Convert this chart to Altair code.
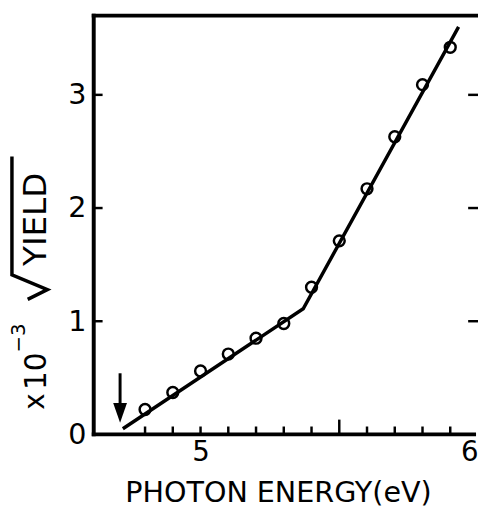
import altair as alt
import pandas as pd

# ---- data ----
energy = [4.8, 4.9, 5.0, 5.1, 5.2, 5.3, 5.4, 5.5, 5.6, 5.7, 5.8, 5.9]
sqrt_yield = [0.22, 0.37, 0.56, 0.71, 0.85, 0.98, 1.30, 1.71, 2.17, 2.63, 3.09, 3.42]

fit_energy = [4.72, 5.37, 5.93]
fit_value = [0.05, 1.11, 3.60]

arrow_energy = [4.71]
arrow_top = [0.54]
arrow_bottom = [0.20]
arrow_head = [0.19]

x_minor_ticks = [4.8, 4.9, 5.0, 5.1, 5.2, 5.3, 5.4, 5.6, 5.7, 5.8, 5.9]
x_mid_ticks = [5.5]
y_ticks = [1, 2, 3]
x_labels = [5, 6]
y_labels = [0, 1, 2, 3]

x_domain = [4.615, 6.0]
y_domain = [0, 3.70]

W, H = 390, 425
FONT = "DejaVu Sans"

pts = pd.DataFrame({"e": energy, "v": sqrt_yield})
fit = pd.DataFrame({"e": fit_energy, "v": fit_value})
arrow = pd.DataFrame({"e": arrow_energy, "top": arrow_top, "bot": arrow_bottom, "head": arrow_head})
xminor = pd.DataFrame({"e": x_minor_ticks})
xmid = pd.DataFrame({"e": x_mid_ticks})
yt = pd.DataFrame({"v": y_ticks})

xscale = alt.Scale(domain=x_domain, nice=False, zero=False)
yscale = alt.Scale(domain=y_domain, nice=False, zero=False)

xaxis = alt.Axis(
    values=x_labels, format="d", ticks=False, tickSize=0, domain=False, grid=False,
    labelFont=FONT, labelFontSize=28, labelColor="black",
    labelPadding=5, labelBaseline="top",
    labelAlign={"condition": {"test": "datum.value == 6", "value": "right"}, "value": "center"},
    title="PHOTON ENERGY(eV)", titleFont=FONT, titleFontSize=29,
    titleFontWeight="normal", titleColor="black", titleX=187, titleY=68,
    titleBaseline="alphabetic",
)
yaxis = alt.Axis(
    values=y_labels, format="d", ticks=False, tickSize=0, domain=False, grid=False,
    labelFont=FONT, labelFontSize=29, labelColor="black",
    labelPadding=8, title=None,
)


def X(field):
    return alt.X(f"{field}:Q", scale=xscale, axis=xaxis)


def Y(field):
    return alt.Y(f"{field}:Q", scale=yscale, axis=yaxis)


circles = alt.Chart(pts).mark_point(
    shape="circle", size=121, filled=False, strokeWidth=2.5, color="black", opacity=1
).encode(x=X("e"), y=Y("v"))

line = alt.Chart(fit).mark_line(color="black", strokeWidth=3.5).encode(x=X("e"), y=Y("v"))

arrow_shaft = alt.Chart(arrow).mark_rule(color="black", strokeWidth=3).encode(
    x=X("e"), y=Y("top"), y2="bot:Q"
)
arrow_tip = alt.Chart(arrow).mark_point(
    shape="M -0.7 -1 L 0.7 -1 L 0 1 Z", size=400, filled=True, color="black", opacity=1
).encode(x=X("e"), y=Y("head"))

tick_minor = alt.Chart(xminor).mark_rule(color="black", strokeWidth=2.5).encode(
    x=X("e"), y=alt.value(H), y2=alt.value(H - 8)
)
tick_mid = alt.Chart(xmid).mark_rule(color="black", strokeWidth=2.5).encode(
    x=X("e"), y=alt.value(H), y2=alt.value(H - 15)
)
tick_left = alt.Chart(yt).mark_rule(color="black", strokeWidth=2.5).encode(
    y=Y("v"), x=alt.value(0), x2=alt.value(9)
)
tick_right = alt.Chart(yt).mark_rule(color="black", strokeWidth=2.5).encode(
    y=Y("v"), x=alt.value(W - 10), x2=alt.value(W)
)

# ---- frame: left, top and bottom sides (right side lies past the picture edge) ----
def frame(x1, y1, x2, y2):
    return alt.Chart(pd.DataFrame({"k": [0]})).mark_rule(
        color="black", strokeWidth=4, strokeCap="square"
    ).encode(x=alt.value(x1), y=alt.value(y1), x2=alt.value(x2), y2=alt.value(y2))

frame_left = frame(0, 0, 0, H)
frame_top = frame(0, 0, W, 0)
frame_bottom = frame(0, H, W - 4, H)

# ---- rotated y title: "x 10^-3 sqrt(YIELD)" ----
def label(text, px, py, size):
    return alt.Chart(pd.DataFrame({"t": [text]})).mark_text(
        angle=270, align="left", baseline="alphabetic", font=FONT,
        fontSize=size, color="black"
    ).encode(text="t:N", x=alt.value(px), y=alt.value(py))

t_x = label("x", -50, 400, 28)
t_10 = label("10", -48, 380, 30)
t_exp = label("\u22123", -70, 342, 20)
t_yield = label("YIELD", -48, 254, 33)

radical = alt.Chart(pd.DataFrame({"k": [0]})).mark_point(
    shape="M -2 68 L 18 58 L -18 43 L -18 -77", size=4, filled=False,
    strokeWidth=3.5, color="black", opacity=1, strokeJoin="miter"
).encode(x=alt.value(-65), y=alt.value(220))

chart = alt.layer(
    frame_left, frame_top, frame_bottom,
    tick_minor, tick_mid, tick_left, tick_right,
    circles, line, arrow_shaft, arrow_tip,
    t_x, t_10, t_exp, t_yield, radical,
).properties(
    width=W, height=H,
    background="white",
    autosize=alt.AutoSizeParams(type="none"),
    padding={"left": 87, "top": 4, "right": 0, "bottom": 74},
).configure_view(
    stroke=None
)

chart.save("out.html", embed_options={"renderer": "svg", "actions": False})
